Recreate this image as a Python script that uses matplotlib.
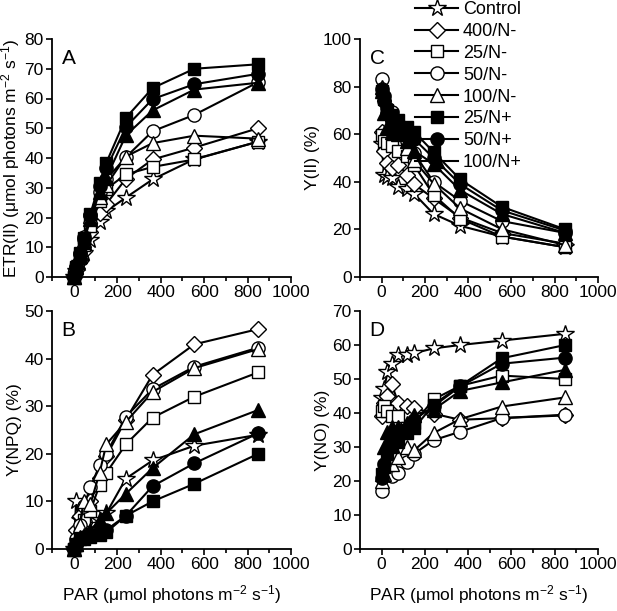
import numpy as np
import matplotlib.pyplot as plt
from matplotlib.ticker import MultipleLocator

plt.rcParams['font.family'] = ['Liberation Sans', 'DejaVu Sans']
plt.rcParams['mathtext.fontset'] = 'custom'
plt.rcParams['mathtext.rm'] = 'Liberation Sans'
plt.rcParams['mathtext.it'] = 'Liberation Sans'

# PAR steps (umol photons m-2 s-1)
par = [0, 11, 27, 46, 77, 119, 150, 240, 363, 555, 849]

labels = ['Control', '400/N-', '25/N-', '50/N-', '100/N-', '25/N+', '50/N+', '100/N+']

# A: ETR(II)
etr_control = [0, 2.0, 4.8, 8.0, 12.3, 18.5, 22.1, 26.7, 32.8, 39.6, 45.5]
etr_400n = [0, 2.4, 5.4, 8.9, 15.2, 21.5, 24.6, 33.0, 39.5, 43.5, 50.0]
etr_25n = [0, 2.6, 6.4, 10.6, 17.1, 25.5, 29.6, 34.5, 37.0, 39.5, 45.5]
etr_50n = [0, 3.5, 8.1, 13.4, 20.9, 28.5, 32.8, 40.3, 49.0, 54.5, 65.5]
etr_100n = [0, 3.6, 7.9, 12.6, 20.5, 27.0, 30.9, 40.5, 45.0, 47.5, 46.5]
etr_25p = [0, 3.5, 7.9, 13.1, 21.3, 31.5, 38.4, 53.5, 63.5, 70.0, 71.5]
etr_50p = [0, 3.4, 7.8, 12.8, 20.7, 30.7, 36.5, 50.4, 59.8, 64.8, 68.3]
etr_100p = [0, 3.2, 7.1, 11.8, 19.4, 28.5, 33.4, 47.6, 56.0, 63.0, 65.3]

# C: Y(II) (%)
y2_control = [56, 43, 42, 41.5, 38, 37, 35, 26.5, 21.5, 17, 12.5]
y2_400n = [61, 53, 48, 46, 47, 43, 39, 33, 25, 18.5, 14]
y2_25n = [59.5, 57, 56.5, 55, 53, 51, 47, 34.5, 24.5, 17, 12.5]
y2_50n = [83, 76, 71, 69.5, 64.5, 57, 52, 40, 32, 23.5, 18.5]
y2_100n = [80, 77, 70, 65, 63.5, 54, 49, 39.2, 28.8, 20.1, 13.4]
y2_25p = [78, 75, 70, 68, 66, 63, 61, 52.5, 41, 29.5, 20]
y2_50p = [79, 74, 69, 66, 64, 61.5, 58, 50, 39, 28, 19.5]
y2_100p = [78, 69, 63, 61, 60, 57, 53, 47.5, 36.5, 26.5, 18.5]

# B: Y(NPQ) (%)
npq_control = [0, 10, 6, 4, 5, 6, 7.5, 14.8, 18.6, 21.7, 24]
npq_400n = [0, 4, 7, 5.5, 10, 15, 19.5, 27.2, 36.6, 43, 46.2]
npq_25n = [0, 1, 3, 6, 8, 13.5, 16, 22, 27.6, 32, 37.1]
npq_50n = [0, 2, 5, 9, 13, 17.6, 20, 27.8, 33.6, 38.3, 42.3]
npq_100n = [0, 1, 5, 10, 9.5, 16, 22, 26.7, 33, 38, 42]
npq_25p = [0, 1, 2, 2, 2.5, 3, 3.5, 7, 10, 13.7, 20]
npq_50p = [0, 1, 2, 2.5, 3, 3.5, 4, 7, 13.2, 18, 24.3]
npq_100p = [0, 1, 2.5, 3, 4, 6, 7.5, 11.6, 17, 24.1, 29.2]

# D: Y(NO) (%)
no_control = [44.4, 47, 52, 54.5, 57, 57, 57.6, 59, 60, 61.3, 63.3]
no_400n = [39, 43, 45, 48.5, 43, 42, 41.5, 39.8, 38, 38.5, 39.5]
no_25n = [40.5, 42, 40.5, 39, 39, 35.5, 37, 44, 48, 51, 50]
no_50n = [17, 22, 24, 21.5, 22.5, 25.5, 28, 32, 34.5, 38.5, 39.3]
no_100n = [20, 22, 25, 25, 27, 30, 29, 34.1, 38.2, 41.9, 44.6]
no_25p = [22, 24, 28, 30, 31.5, 34, 35.5, 42.5, 48, 56.1, 60]
no_50p = [21, 25, 29, 31.5, 33, 35, 38, 42, 47.8, 54.5, 56.3]
no_100p = [22, 30, 34.5, 36, 36, 37, 39.5, 41, 46.5, 49, 52.7]

markers = ['*', 'D', 's', 'o', '^', 's', 'o', '^']
msizes = [13, 8, 8.5, 9.5, 9.5, 8.5, 9.5, 9.5]
faces = ['white'] * 5 + ['black'] * 3

fig = plt.figure(figsize=(6.17, 6.11), dpi=100)
W, H = 617, 611


def make_ax(left, top, right, bottom):
    return fig.add_axes([left / W, 1 - bottom / H, (right - left) / W, (bottom - top) / H])


axA = make_ax(52, 39, 291, 277)
axC = make_ax(360, 39, 598, 277)
axB = make_ax(52, 311, 291, 549)
axD = make_ax(360, 311, 598, 549)

panels = [
    (axA, [etr_control, etr_400n, etr_25n, etr_50n, etr_100n, etr_25p, etr_50p, etr_100p],
     'A', 80, 10, r'ETR(II) ($\mu$mol photons m$^{-2}$ s$^{-1}$)'),
    (axC, [y2_control, y2_400n, y2_25n, y2_50n, y2_100n, y2_25p, y2_50p, y2_100p],
     'C', 100, 20, 'Y(II) (%)'),
    (axB, [npq_control, npq_400n, npq_25n, npq_50n, npq_100n, npq_25p, npq_50p, npq_100p],
     'B', 50, 10, 'Y(NPQ) (%)'),
    (axD, [no_control, no_400n, no_25n, no_50n, no_100n, no_25p, no_50p, no_100p],
     'D', 70, 10, 'Y(NO) (%)'),
]

for ax, series, letter, ymax, ystep, ylab in panels:
    for vals, lab, m, ms, fc in zip(series, labels, markers, msizes, faces):
        ax.plot(par, vals, color='black', lw=1.5, marker=m, ms=ms,
                mfc=fc, mec='black', mew=1.0, label=lab, clip_on=False)
    ax.set_xlim(-100, 1000)
    ax.set_ylim(0, ymax)
    ax.xaxis.set_major_locator(MultipleLocator(200))
    ax.xaxis.set_minor_locator(MultipleLocator(100))
    ax.yaxis.set_major_locator(MultipleLocator(ystep))
    for s in ['top', 'right']:
        ax.spines[s].set_visible(False)
    for s in ['left', 'bottom']:
        ax.spines[s].set_linewidth(1.3)
    ax.tick_params(which='major', direction='out', length=4, width=1.2, labelsize=12.5, pad=2)
    ax.tick_params(which='minor', direction='out', length=3, width=1.2)
    ax.set_ylabel(ylab, fontsize=12.5, labelpad=2)
    ax.text(0.04, 0.96, letter, transform=ax.transAxes, fontsize=15, va='top', ha='left')

for ax in [axB, axD]:
    ax.set_xlabel(r'PAR ($\mu$mol photons m$^{-2}$ s$^{-1}$)', fontsize=12.5, labelpad=8)

handles, labs = axA.get_legend_handles_labels()
fig.legend(handles, labs, loc='upper left', bbox_to_anchor=(415 / W, 1 - 1 / H),
           frameon=False, fontsize=13, handlelength=2.4, handletextpad=0.25,
           labelspacing=0.27, borderpad=0, borderaxespad=0)

fig.savefig('out.png', dpi=100)
